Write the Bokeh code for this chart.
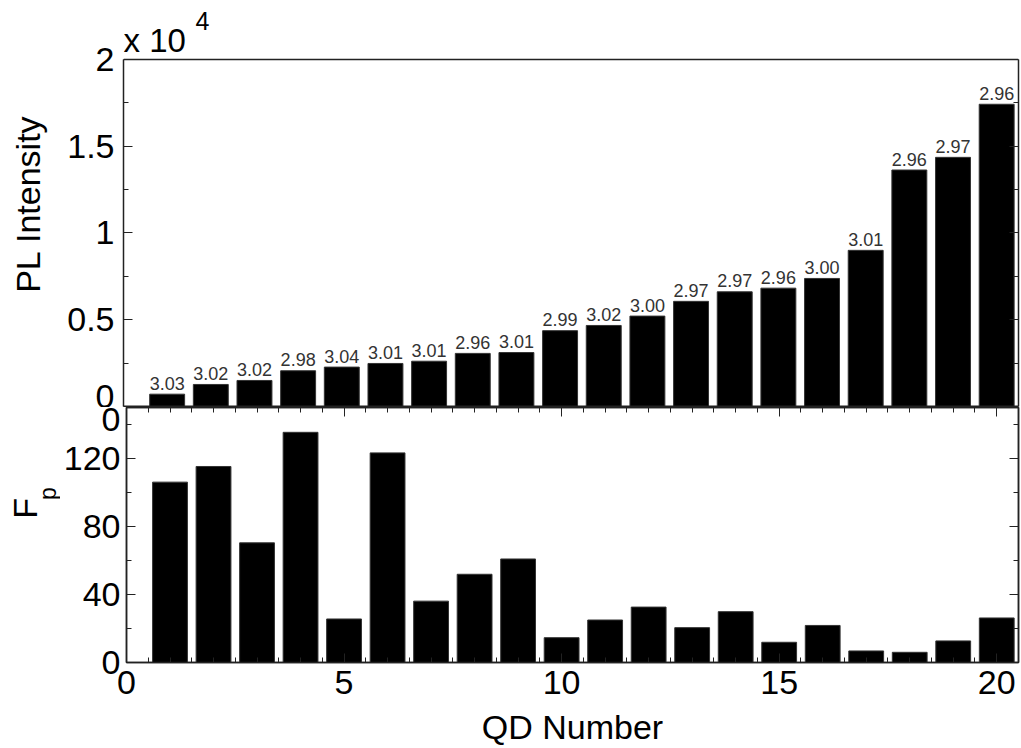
import math
from bokeh.plotting import figure
from bokeh.layouts import column, row
from bokeh.models import (Range1d, LinearAxis, SingleIntervalTicker, FixedTicker,
                          Label, Span, ColumnDataSource)
from bokeh.embed import file_html
from bokeh.resources import INLINE
from bokeh.core.properties import value
from bokeh.transform import dodge

# ---------------- data ----------------
qd_number = list(range(1, 21))
pl_intensity = [710, 1270, 1500, 2060, 2270, 2480, 2610, 3060, 3110, 4370,
                4670, 5210, 6060, 6610, 6820, 7380, 9000, 13630, 14360, 17420]
peak_energy = ["3.03", "3.02", "3.02", "2.98", "3.04", "3.01", "3.01", "2.96", "3.01", "2.99",
               "3.02", "3.00", "2.97", "2.97", "2.96", "3.00", "3.01", "2.96", "2.97", "2.96"]
purcell_fp = [106.1, 115.3, 70.4, 135.4, 25.6, 123.3, 36.1, 51.9, 60.9, 14.6,
              25.0, 32.6, 20.5, 29.9, 11.9, 21.8, 6.8, 6.0, 12.7, 26.2]

pl_ticks = [0, 5000, 10000, 15000, 20000]
pl_tick_labels = ["0", "0.5", "1", "1.5", "2"]
pl_minor = [2500, 7500, 12500, 17500]
fp_ticks = [0, 40, 80, 120]
fp_minor = [20, 60, 100, 140]

FONT = "Liberation Sans"
W = 1021
AX = "#222222"

src = ColumnDataSource(dict(qd=qd_number, pl=pl_intensity, en=peak_energy, fp=purcell_fp))


def style_axis(ax, labels=True, size="34px"):
    ax.axis_line_color = AX
    ax.axis_line_width = 1.5
    ax.major_tick_line_color = AX
    ax.minor_tick_line_color = AX
    ax.major_tick_in = 9
    ax.major_tick_out = 0
    ax.minor_tick_in = 5
    ax.minor_tick_out = 0
    ax.major_label_text_font = FONT
    ax.major_label_text_color = "black"
    ax.axis_label_text_font = FONT
    ax.axis_label_text_font_style = "normal"
    ax.axis_label_text_font_size = "34px"
    ax.axis_label_text_color = "black"
    if labels:
        ax.major_label_text_font_size = size
    else:
        ax.major_label_text_font_size = "0px"
        ax.major_label_standoff = 0


# ---------------- top panel (frame extended upward to hold the x10^4 note) ----------------
p1 = figure(width=W, height=407, x_range=Range1d(0, 20.5), y_range=Range1d(-58, 23400),
            output_backend="svg", toolbar_location=None,
            x_axis_location=None, y_axis_location=None,
            min_border_left=123, min_border_right=3, min_border_top=0, min_border_bottom=0)
p1.grid.visible = False
p1.outline_line_color = None

pl_over = {t: l for t, l in zip(pl_ticks, pl_tick_labels)}
ly1 = LinearAxis(ticker=FixedTicker(ticks=pl_ticks, minor_ticks=pl_minor),
                 major_label_overrides=pl_over, axis_label="PL Intensity",
                 bounds=(pl_ticks[0], pl_ticks[-1]))
style_axis(ly1)
ly1.major_label_standoff = 9
ly1.axis_label_standoff = 17
p1.add_layout(ly1, "left")
ry1 = LinearAxis(ticker=FixedTicker(ticks=pl_ticks, minor_ticks=pl_minor),
                 bounds=(pl_ticks[0], pl_ticks[-1]))
style_axis(ry1, labels=False)
p1.add_layout(ry1, "right")
p1.add_layout(Span(location=pl_ticks[-1], dimension="width", line_color=AX, line_width=1.5))
p1.add_layout(Span(location=0, dimension="width", line_color=AX, line_width=2))

p1.vbar(x="qd", top="pl", width=0.8, source=src, fill_color="black", line_color="#333333", line_width=1)
p1.text(x="qd", y=dodge("pl", 630, range=p1.y_range), text="en", source=src,
        text_align="center", text_baseline="middle",
        text_font=value(FONT), text_font_size="18px", text_color="#333333")

p1.add_layout(Label(x=0, y=21096, text="x 10", text_font=FONT, text_font_size="33px",
                    text_baseline="middle", text_align="left", text_color="black"))
p1.add_layout(Label(x=1.65, y=22191, text="4", text_font=FONT, text_font_size="25px",
                    text_baseline="middle", text_align="left", text_color="black"))

# ---------------- bottom panel ----------------
LABW = 60
p2 = figure(width=W - LABW, height=341, x_range=Range1d(0, 20.5), y_range=Range1d(0, 150),
            output_backend="svg", toolbar_location=None,
            x_axis_location=None, y_axis_location=None,
            min_border_left=123 - LABW, min_border_right=3, min_border_top=0, min_border_bottom=84)
p2.grid.visible = False
p2.outline_line_color = AX
p2.outline_line_width = 1.5

ly2 = LinearAxis(ticker=FixedTicker(ticks=fp_ticks + [150], minor_ticks=fp_minor),
                 major_label_overrides={150: "0"})
style_axis(ly2)
ly2.major_label_standoff = 6
p2.add_layout(ly2, "left")
ry2 = LinearAxis(ticker=FixedTicker(ticks=fp_ticks, minor_ticks=fp_minor))
style_axis(ry2, labels=False)
p2.add_layout(ry2, "right")

bx2 = LinearAxis(ticker=SingleIntervalTicker(interval=5, num_minor_ticks=10), axis_label="QD Number")
style_axis(bx2)
bx2.major_label_standoff = 8
bx2.axis_label_standoff = 11
p2.add_layout(bx2, "below")
tx2 = LinearAxis(ticker=SingleIntervalTicker(interval=5, num_minor_ticks=10))
style_axis(tx2, labels=False)
p2.add_layout(tx2, "above")

p2.vbar(x="qd", top="fp", width=0.8, source=src, fill_color="black", line_color="#333333", line_width=1)

# ---------------- F_p axis title (narrow blank figure left of bottom panel) ----------------
lab = figure(width=LABW, height=341, x_range=Range1d(0, LABW), y_range=Range1d(0, 341),
             output_backend="svg", toolbar_location=None,
             x_axis_location=None, y_axis_location=None,
             min_border_left=0, min_border_right=0, min_border_top=0, min_border_bottom=0)
lab.grid.visible = False
lab.outline_line_color = None
lab.add_layout(Label(x=24.5, y=206, text="F", angle=math.pi / 2, text_font=FONT,
                     text_font_size="34px", text_baseline="middle", text_align="center",
                     text_color="black"))
lab.add_layout(Label(x=47, y=226, text="p", angle=math.pi / 2, text_font=FONT,
                     text_font_size="23px", text_baseline="middle", text_align="center",
                     text_color="black"))

layout = column(p1, row(lab, p2, spacing=0), spacing=0)
open("out.html", "w").write(file_html(layout, INLINE))
